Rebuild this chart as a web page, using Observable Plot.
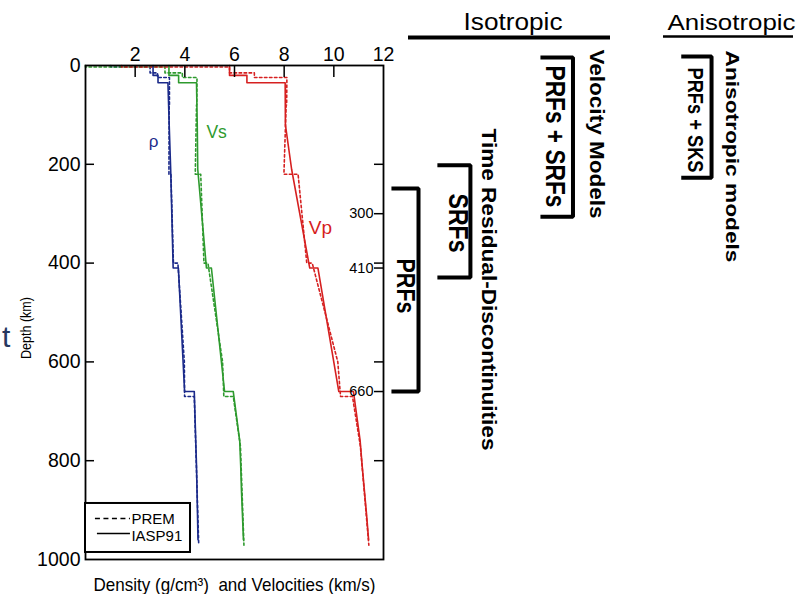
<!DOCTYPE html>
<html><head><meta charset="utf-8">
<script src="https://cdn.jsdelivr.net/npm/d3@7"></script>
<script src="https://cdn.jsdelivr.net/npm/@observablehq/plot@0.6"></script>
<style>
html,body{margin:0;padding:0;background:#fff;}
#chart{width:798px;height:594px;overflow:hidden;}
</style></head><body><div id="chart"></div>
<script>
// ---- data ----
const iaspDepth = [0, 20, 20, 35, 35, 120, 210, 210, 410, 410, 660, 660, 760, 810, 860, 910, 960];
const iaspVp    = [5.80, 5.80, 6.50, 6.50, 8.04, 8.05, 8.30, 8.30, 9.03, 9.36, 10.20, 10.79, 11.06, 11.14, 11.23, 11.32, 11.40];
const iaspVs    = [3.36, 3.36, 3.75, 3.75, 4.47, 4.50, 4.52, 4.52, 4.87, 5.07, 5.60, 5.95, 6.21, 6.25, 6.28, 6.32, 6.36];
const iaspRho   = [2.72, 2.72, 2.92, 2.92, 3.32, 3.37, 3.43, 3.43, 3.53, 3.74, 3.99, 4.38, 4.44, 4.47, 4.49, 4.51, 4.53];

const premDepth = [0, 3, 3, 15, 15, 24.4, 24.4, 80, 80, 220, 220, 400, 400, 600, 670, 670, 771, 871, 971];
const premVp    = [1.45, 1.45, 5.80, 5.80, 6.80, 6.80, 8.11, 8.10, 8.08, 7.99, 8.56, 8.91, 9.13, 10.16, 10.27, 10.75, 11.07, 11.24, 11.41];
const premVs    = [0, 0, 3.20, 3.20, 3.90, 3.90, 4.49, 4.48, 4.47, 4.42, 4.64, 4.77, 4.93, 5.52, 5.57, 5.95, 6.24, 6.31, 6.38];
const premRho   = [1.02, 1.02, 2.60, 2.60, 2.90, 2.90, 3.38, 3.38, 3.37, 3.36, 3.44, 3.54, 3.72, 3.98, 3.99, 4.38, 4.44, 4.50, 4.56];

const params = ["ρ", "Vs", "Vp"];
const models = ["PREM", "IASP91"];
const xTicks = [2, 4, 6, 8, 10, 12];
const yTicks = [0, 200, 400, 600, 800, 1000];
const rightTicks = [200, 300, 400, 410, 600, 660, 800];
const rightLabels = [300, 410, 660];
const sideTicks = [200, 400, 600, 800];
const topTicks = [2, 4, 6, 8, 10];

// ---- styling / layout ----
const colors = {"ρ": "#1b2a8a", "Vs": "#2e9a2e", "Vp": "#d62020"};
const W = 798, H = 594, mL = 85, mR = 415, mT = 65, mB = 35;
const plotW = W - mL - mR, plotH = H - mT - mB;

const rows = [];
const addModel = (model, depth, series) => {
  params.forEach((p, k) => depth.forEach((d, i) => rows.push({model, param: p, depth: d, value: series[k][i]})));
};
addModel("IASP91", iaspDepth, [iaspRho, iaspVs, iaspVp]);
addModel("PREM", premDepth, [premRho, premVs, premVp]);

// annotation layout (x in axis units beyond the frame, y in depth km)
const curveLabels = [
  {text: "ρ", x: 2.74, y: 154, size: 17},
  {text: "Vs", x: 5.28, y: 136, size: 17.5},
  {text: "Vp", x: 9.46, y: 328, size: 19}
];
const brackets = [
  {x1: 12.32, x2: 13.41, top: 249, bottom: 660},
  {x1: 14.17, x2: 15.50, top: 202, bottom: 429},
  {x1: 18.32, x2: 19.63, top: -16, bottom: 306},
  {x1: 23.99, x2: 25.21, top: -18, bottom: 227}
];
const headers = [
  {text: "Isotropic", x: 17.215, y: -85.8, size: 23, x1: 13.007, x2: 21.141, ly: -56.7, sw: 4},
  {text: "Anisotropic", x: 26.013, y: -84.8, size: 21.5, x1: 23.275, x2: 28.51, ly: -58.7, sw: 2.5}
];
const rotLabels = [
  {text: "Velocity Models", x: 20.58, y: 138.7, size: 19.5, weight: "bold"},
  {text: "PRFs + SRFs", x: 18.89, y: 143.7, size: 28, weight: "bold"},
  {text: "Time Residual-Discontinuities", x: 16.25, y: 453.4, size: 21, weight: "bold"},
  {text: "SRFs", x: 15.0, y: 318.8, size: 28, weight: "bold"},
  {text: "PRFs", x: 12.85, y: 446.4, size: 25, weight: "bold"},
  {text: "PRFs + SKS", x: 24.56, y: 110.3, size: 22, weight: "bold"},
  {text: "Anisotropic models", x: 26.04, y: 184.2, size: 18.5, weight: "bold"}
];
const textLengths = new Map([
  ["Isotropic", 99], ["Anisotropic", 128], ["Velocity Models", 169], ["PRFs + SRFs", 142],
  ["Time Residual-Discontinuities", 322], ["SRFs", 59], ["PRFs", 55], ["PRFs + SKS", 105],
  ["Anisotropic models", 212], ["Depth (km)", 62], ["Density (g/cm³)\u00a0 and Velocities (km/s)", 282]
]);
const legend = {x1: 0, x2: 4.228, y1: 886.6, y2: 985.8,
  dash: {x1: 0.40, x2: 1.81, y: 917}, solid: {x1: 0.48, x2: 1.81, y: 947.4},
  tx: 1.85, ty: [917.8, 952.2]};

const marks = [];
// curves
for (const m of models) for (const p of params) {
  marks.push(Plot.line(rows.filter(r => r.model === m && r.param === p), {
    x: "value", y: "depth", stroke: colors[p], strokeWidth: 1.6,
    strokeDasharray: m === "PREM" ? "2.5,2.5" : null
  }));
}
// frame and axes
marks.push(Plot.frame({stroke: "black", strokeWidth: 1.8}));
marks.push(Plot.axisX(xTicks, {anchor: "top", tickSize: 0, tickPadding: 5, fontSize: 19.5, label: null, tickFormat: d => String(d)}));
marks.push(Plot.axisY(yTicks, {anchor: "left", tickSize: 0, tickPadding: 5, fontSize: 19.5, label: null, tickFormat: d => String(d)}));
marks.push(Plot.tickX(topTicks, {x: d => d, insetBottom: plotH - 12, strokeWidth: 1.5}));
marks.push(Plot.tickY(sideTicks, {y: d => d, insetRight: plotW - 9, strokeWidth: 1.5}));
marks.push(Plot.tickY(rightTicks, {y: d => d, insetLeft: plotW - 9, strokeWidth: 1.5}));
marks.push(Plot.text(rightLabels, {x: 12, y: d => d, text: d => String(d), textAnchor: "end", dx: -10, fontSize: 14.5}));
// curve labels
for (const c of curveLabels) {
  marks.push(Plot.text([c], {x: "x", y: "y", text: "text", fill: colors[c.text], fontSize: c.size}));
}
// axis titles
marks.push(Plot.text(["Depth (km)"], {x: -2.38, y: 531.4, text: d => d, rotate: -90, fontSize: 15}));
marks.push(Plot.text(["Density (g/cm³)\u00a0 and Velocities (km/s)"], {x: 6.0, y: 1051.4, text: d => d, fontSize: 19}));
marks.push(Plot.text(["t"], {x: -3.36, y: 551.2, text: d => d, textAnchor: "start", fontSize: 30, fill: "#26375f"}));
// legend
marks.push(Plot.rect([legend], {x1: "x1", x2: "x2", y1: "y1", y2: "y2", fill: "white", stroke: "black", strokeWidth: 2}));
marks.push(Plot.ruleY([legend.dash], {y: "y", x1: "x1", x2: "x2", stroke: "black", strokeWidth: 1.6, strokeDasharray: "5,3.5"}));
marks.push(Plot.ruleY([legend.solid], {y: "y", x1: "x1", x2: "x2", stroke: "black", strokeWidth: 1.6}));
marks.push(Plot.text(models, {x: legend.tx, y: (d, i) => legend.ty[i], text: d => d, textAnchor: "start", fontSize: 15}));
// brackets
for (const b of brackets) {
  marks.push(Plot.line([[b.x1, b.top], [b.x2, b.top], [b.x2, b.bottom], [b.x1, b.bottom]], {
    x: d => d[0], y: d => d[1], stroke: "black", strokeWidth: 4, strokeLinejoin: "miter", strokeLinecap: "butt"
  }));
}
// headers
for (const h of headers) {
  marks.push(Plot.text([h], {x: "x", y: "y", text: "text", fontSize: h.size}));
  marks.push(Plot.ruleY([h], {y: "ly", x1: "x1", x2: "x2", stroke: "black", strokeWidth: h.sw}));
}
// rotated labels
for (const r of rotLabels) {
  marks.push(Plot.text([r], {x: "x", y: "y", text: "text", rotate: 90, fontSize: r.size, fontWeight: r.weight}));
}

const chart = Plot.plot({
  width: W, height: H, marginLeft: mL, marginRight: mR, marginTop: mT, marginBottom: mB,
  x: {domain: [0, 12]},
  y: {domain: [0, 1000], reverse: true},
  style: {fontFamily: "'Liberation Sans', Arial, sans-serif", background: "white", color: "black"},
  marks
});
d3.select(chart).selectAll("text").each(function () {
  const t = this.textContent;
  if (textLengths.has(t)) {
    this.setAttribute("textLength", textLengths.get(t));
    this.setAttribute("lengthAdjust", "spacingAndGlyphs");
  }
});
document.getElementById("chart").appendChild(chart);
</script>
</body></html>
